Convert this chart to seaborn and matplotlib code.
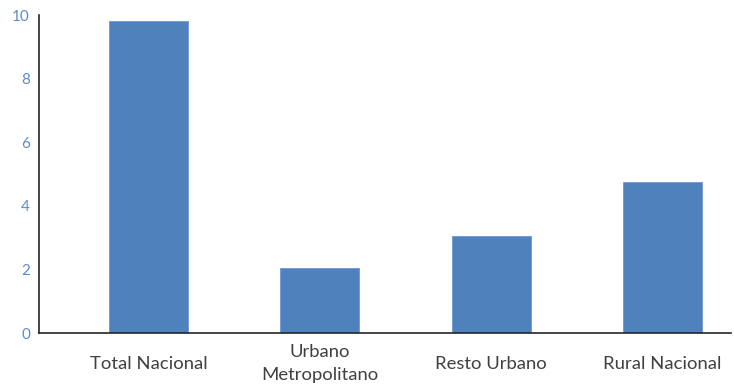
import matplotlib
matplotlib.use("Agg")
import matplotlib.pyplot as plt
import seaborn as sns
import pandas as pd

categories = ["Total Nacional", "Urbano\nMetropolitano", "Resto Urbano", "Rural Nacional"]
values = [9.8, 2.03, 3.05, 4.75]
yticks = [0, 2, 4, 6, 8, 10]

sns.set_theme(style="white")
plt.rcParams['font.family'] = ['Lato', 'DejaVu Sans']

df = pd.DataFrame({"cat": categories, "val": values})

fig = plt.figure(figsize=(7.34, 3.91), dpi=100)
ax = fig.add_axes([0.0531, 0.1483, 0.9959 - 0.0531, 0.9616 - 0.1483])
sns.barplot(data=df, x="cat", y="val", color="#4f81bd", saturation=1, width=0.46,
            edgecolor="#6f98cc", linewidth=0.6, ax=ax)

ax.set_xlim(-0.64, 3.40)
ax.set_ylim(0, 10)
ax.set_yticks(yticks)
ax.set_xlabel("")
ax.set_ylabel("")
for s in ["top", "right"]:
    ax.spines[s].set_visible(False)
for s in ["left", "bottom"]:
    ax.spines[s].set_color("#262626")
    ax.spines[s].set_linewidth(1.2)
ax.tick_params(axis="y", length=0, pad=6.5, labelsize=11, labelcolor="#5b8bd0")
ax.tick_params(axis="x", length=0, pad=22, labelsize=13.3, labelcolor="#404040")
for lbl in ax.get_xticklabels():
    lbl.set_va("center")
    lbl.set_linespacing(1.6)

fig.savefig("out.png", dpi=100)
